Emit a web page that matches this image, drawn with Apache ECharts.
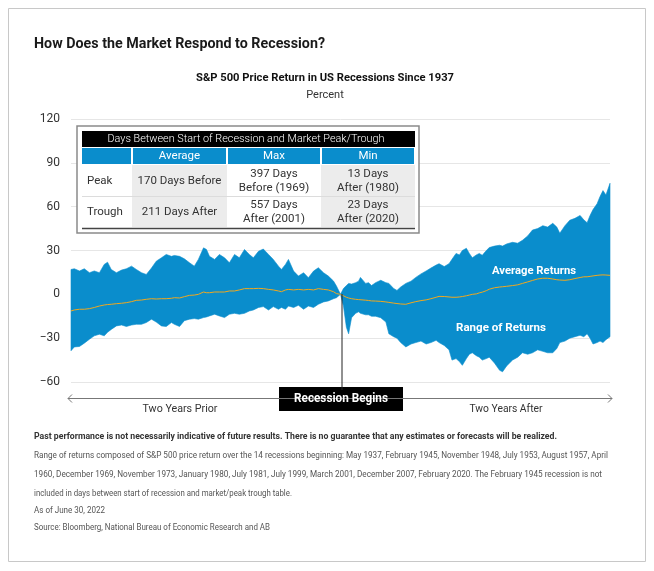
<!DOCTYPE html>
<html>
<head>
<meta charset="utf-8">
<script src="https://cdn.jsdelivr.net/npm/echarts@6/dist/echarts.min.js"></script>
<style>html,body{margin:0;padding:0;background:#fff}#c{width:654px;height:571px}</style>
</head>
<body>
<div id="c"></div>
<script>
// Days relative to start of recession
var days = [-730,-721,-707,-694,-680,-667,-653,-640,-631,-621,-607,-593,-580,-566,-553,-539,-526,-512,-499,-485,-472,-458,-450,-436,-423,-409,-396,-385,-371,-363,-355,-341,-328,-314,-301,-287,-274,-260,-247,-236,-222,-209,-195,-182,-168,-160,-149,-141,-127,-114,-100,-87,-73,-60,-46,-33,-19,-11,0,
  8,16,22,30,41,49,54,68,76,84,95,109,123,131,144,153,163,177,191,204,218,232,245,259,267,281,294,302,313,322,330,341,349,357,368,376,384,395,403,417,431,439,450,466,480,493,507,520,534,548,561,575,586,594,608,621,635,649,659,668,676,684,695,703,711,719,730];

// Top of the range of returns (percent)
var upperReturns = [17,17.5,16,17.5,14.8,16,14.8,20.5,22,17, 14.8,16.6,17.5,19.3,17,14.8,13.6,18,22.7,25, 27.3,26,26.6,26,24.3,21.6,19.3,23.9,31.8,30.7, 26,23.9,27.3,25,21.6,27.3,25,30.7,27.3,25, 29.5,31,27.3,23.9,19.3,17,20.5,23.9,15.9,12.5, 14.8,11.4,15.9,18.2,14.8,12.5,9.1,5.7,0,
  4,6,7.5,7,8,9,11.6,7.5,8,6, 8,9.6,8,7.5,4,2.7,5,7.5,9,11.6, 14,16,18,20,21,19,21,24,28,27, 30,31.5,28,25,27,28,26.7,30,32,33, 33.6,33,34.5,35.6,35,37,40,44,45,47, 46,48.6,46,41.8,47,50.7,52,54,51,49, 54,58,62,67,71,68,76];

// Bottom of the range of returns (percent)
var lowerReturns = [-38.6,-36,-35.7,-33.4,-30.7,-28.4,-27.3,-28.4,-26,-24, -21.6,-21,-22,-21,-20.5,-20.5,-19.3,-17,-19,-21.6, -22,-19.3,-20.5,-22,-18,-17,-16.6,-17,-15.9,-15.5, -14.8,-13.6,-14.8,-15.9,-13.6,-13,-13.6,-13,-11.4,-10.7, -9,-8.4,-10.7,-8.4,-10.2,-9,-10.2,-8,-9,-7.5, -10.2,-8,-9,-6.8,-5.2,-4.5,-3,-2.3,0,
  -8,-22.6,-27,-16,-13,-12,-13,-14,-14,-15, -15,-16,-19,-27,-29,-30,-33,-36,-34,-33, -32,-34,-33,-31.5,-33,-35,-38,-45,-44,-46, -48.6,-44,-41,-40,-42,-43,-45,-44,-43,-47, -52,-53,-49,-45,-43,-40,-41,-40,-38,-39, -40,-40,-37,-33,-32,-30,-29,-28,-29,-27, -30,-34,-33,-32,-33,-31,-29];

// Average returns (percent)
var averageReturns = [-11.4,-10.7,-10.2,-10.2,-9.8,-9,-8,-7.3,-7,-6.8, -6.4,-6.1,-5.7,-5,-4.1,-3.9,-3.4,-3,-3.2,-3, -3,-2.7,-2.3,-2.5,-1.6,-0.7,-0.5,0,1.6,1.1, 1.1,1.6,1.6,1.6,2.3,2.3,3,3.9,3.9,3.9, 4.1,3.9,3.4,3,2.3,1.8,3,3.4,3,3.4, 3,3.4,3,3.9,3.4,3,1.8,0.5,0,
  -1,-2,-2.5,-3,-3.4,-3.6,-3.8,-4,-4.2,-4.5, -4.6,-4.8,-5.2,-5.5,-6,-6.3,-6.6,-6.8,-5.8,-5, -4.3,-3.8,-3,-2,-1.4,-1.5,-1.8,-2,-2,-1.8, -1.5,-1,-0.5,0,0.3,1,1.5,2.5,3.5,4.5, 5,5.2,5.5,6,6.5,7.5,8.5,9.5,10.5,11, 11,10.5,10,9.8,9.6,10,10.8,11.5,12,12, 12.3,12.6,13,13.2,13.3,13.2,13];

var yTicks = {min: -60, max: 120, interval: 30};

var tableTitle = 'Days Between Start of Recession and Market Peak/Trough';
var tableCols = ['', 'Average', 'Max', 'Min'];
var tableRows = [
  ['Peak', ['170 Days Before'], ['397 Days', 'Before (1969)'], ['13 Days', 'After (1980)']],
  ['Trough', ['211 Days After'], ['557 Days', 'After (2001)'], ['23 Days', 'After (2020)']]
];

var footBold = 'Past performance is not necessarily indicative of future results. There is no guarantee that any estimates or forecasts will be realized.';
var footLines = [
  'Range of returns composed of S&P 500 price return over the 14 recessions beginning: May 1937, February 1945, November 1948, July 1953, August 1957, April',
  '1960, December 1969, November 1973, January 1980, July 1981, July 1999, March 2001, December 2007, February 2020. The February 1945 recession is not',
  'included in days between start of recession and market/peak trough table.'
];
var asOf = 'As of June 30, 2022';
var source = 'Source: Bloomberg, National Bureau of Economic Research and AB';

var FF = 'Roboto, "Noto Sans", sans-serif';
var BLUE = '#0a8dcc';

var cv = document.createElement('canvas').getContext('2d');
function measure(t, font) { cv.font = font; return cv.measureText(t).width; }
function txt(x, y, t, o) {
  o = o || {};
  var font = o.font || ('12px ' + FF);
  var sx = 1;
  if (o.w) sx = o.w / measure(t, font);
  return {
    type: 'text', x: x, y: y, scaleX: sx, z: 100,
    style: { text: t, font: font, fill: o.fill || '#333', textAlign: o.align || 'left', textVerticalAlign: 'middle' }
  };
}
function rect(x, y, w, h, fill, stroke, lw) {
  return { type: 'rect', z: 90, shape: {x: x, y: y, width: w, height: h}, style: {fill: fill || 'none', stroke: stroke || null, lineWidth: lw || 0} };
}
function line(x1, y1, x2, y2, c, lw) {
  return { type: 'line', z: 95, shape: {x1: x1, y1: y1, x2: x2, y2: y2}, style: {stroke: c, lineWidth: lw || 1} };
}

var avgData = days.map(function (d, i) { return [d, averageReturns[i]]; });

var g = [];
// outer frame
g.push(rect(8.5, 8.5, 637, 553, 'none', '#c8c8c8', 1));
// titles
g.push(txt(34, 44, 'How Does the Market Respond to Recession?', {font: 'bold 15px ' + FF, w: 291, fill: '#1a1a1a'}));
g.push(txt(325, 78, 'S&P 500 Price Return in US Recessions Since 1937', {font: 'bold 11.5px ' + FF, w: 258, align: 'center', fill: '#111'}));
g.push(txt(325, 95, 'Percent', {font: '11px ' + FF, align: 'center', fill: '#333'}));

// table
g.push(rect(77, 126, 342, 107, '#fff', '#8a8a8a', 1.5));
g.push(rect(82, 131, 333, 16, '#000'));
g.push(txt(246, 139, tableTitle, {font: '300 11.5px ' + FF, fill: '#fff', w: 277, align: 'center'}));
var colX = [82, 132, 227, 321, 415];
for (var c = 0; c < 4; c++) {
  var x0 = colX[c] + (c > 0 ? 1 : 0), x1 = colX[c + 1] - 1;
  g.push(rect(x0, 148, x1 - x0, 16, BLUE));
  if (tableCols[c]) g.push(txt((x0 + x1) / 2, 156.5, tableCols[c], {font: '11.5px ' + FF, fill: '#fff', align: 'center'}));
}
var rowY = [165, 197, 228];
for (var r = 0; r < 2; r++) {
  var y0 = rowY[r], y1 = rowY[r + 1];
  g.push(rect(colX[1], y0, colX[2] - colX[1], y1 - y0 - 1, '#ececec'));
  g.push(rect(colX[3], y0, colX[4] - colX[3], y1 - y0 - 1, '#ececec'));
  var cy = (y0 + y1) / 2;
  g.push(txt(87, cy, tableRows[r][0], {font: '11.5px ' + FF}));
  for (var k = 1; k < 4; k++) {
    var cx = (colX[k] + colX[k + 1]) / 2;
    var lines = tableRows[r][k];
    if (lines.length === 1) g.push(txt(cx, cy, lines[0], {font: '11.5px ' + FF, align: 'center'}));
    else {
      g.push(txt(cx, cy - 7, lines[0], {font: '11.5px ' + FF, align: 'center'}));
      g.push(txt(cx, cy + 7, lines[1], {font: '11.5px ' + FF, align: 'center'}));
    }
  }
}
g.push(line(82, 196.5, 415, 196.5, '#dcdcdc', 1));
g.push(line(82, 228.5, 415, 228.5, '#444', 1.5));

// series labels
g.push(txt(534, 271, 'Average Returns', {font: 'bold 11.5px ' + FF, fill: '#fff', align: 'center', w: 84}));
g.push(txt(501, 328, 'Range of Returns', {font: 'bold 11.5px ' + FF, fill: '#fff', align: 'center', w: 90}));

// recession marker
g.push(line(342, 294, 342, 390, '#222', 1));
g.push(line(68, 398.5, 612, 398.5, '#777', 1));
g.push({type: 'polyline', z: 95, shape: {points: [[72, 394.5], [68, 398.5], [72, 402.5]]}, style: {stroke: '#777', lineWidth: 1, fill: 'none'}});
g.push({type: 'polyline', z: 95, shape: {points: [[608, 394.5], [612, 398.5], [608, 402.5]]}, style: {stroke: '#777', lineWidth: 1, fill: 'none'}});
g.push(rect(279, 387, 124, 24, '#000'));
g.push(txt(341, 399, 'Recession Begins', {font: 'bold 12px ' + FF, fill: '#fff', align: 'center', w: 94}));
g.push(txt(180, 409, 'Two Years Prior', {font: '11.5px ' + FF, align: 'center', w: 75}));
g.push(txt(506, 409, 'Two Years After', {font: '11.5px ' + FF, align: 'center', w: 73}));

// footer
g.push(txt(34, 437, footBold, {font: 'bold 9px ' + FF, fill: '#333', w: 523}));
g.push(txt(34, 456, footLines[0], {font: '8.5px ' + FF, fill: '#555', w: 574}));
g.push(txt(34, 475, footLines[1], {font: '8.5px ' + FF, fill: '#555', w: 568}));
g.push(txt(34, 494, footLines[2], {font: '8.5px ' + FF, fill: '#555', w: 258}));
g.push(txt(34, 511, asOf, {font: '8.5px ' + FF, fill: '#555', w: 71}));
g.push(txt(34, 528, source, {font: '8.5px ' + FF, fill: '#555', w: 236}));

var chart = echarts.init(document.getElementById('c'), null, {renderer: 'canvas'});
chart.setOption({
  animation: false,
  backgroundColor: '#fff',
  grid: {left: 71, right: 44, top: 119, bottom: 189, containLabel: false},
  xAxis: {type: 'value', min: -730, max: 730, show: false},
  yAxis: {
    type: 'value', min: yTicks.min, max: yTicks.max, interval: yTicks.interval,
    axisLine: {show: false}, axisTick: {show: false},
    splitLine: {lineStyle: {color: '#e6e6e6', width: 1}},
    axisLabel: {color: '#333', fontSize: 12, fontFamily: FF, margin: 11,
      formatter: function (v) { return String(v).replace('-', '\u2212'); }}
  },
  series: [
    {type: 'custom', name: 'Range of Returns', coordinateSystem: 'cartesian2d', data: [[0, 0]], silent: true, z: 2,
      renderItem: function (params, api) {
        var pts = [];
        for (var i = 0; i < days.length; i++) pts.push(api.coord([days[i], upperReturns[i]]));
        for (var j = days.length - 1; j >= 0; j--) pts.push(api.coord([days[j], lowerReturns[j]]));
        return {type: 'polygon', shape: {points: pts}, style: {fill: BLUE, stroke: BLUE, lineWidth: 0.6}};
      }},
    {type: 'line', name: 'Average Returns', data: avgData, symbol: 'none',
      lineStyle: {width: 1, color: '#f2a81d'}, silent: true, z: 3}
  ],
  graphic: g
});
</script>
</body>
</html>
